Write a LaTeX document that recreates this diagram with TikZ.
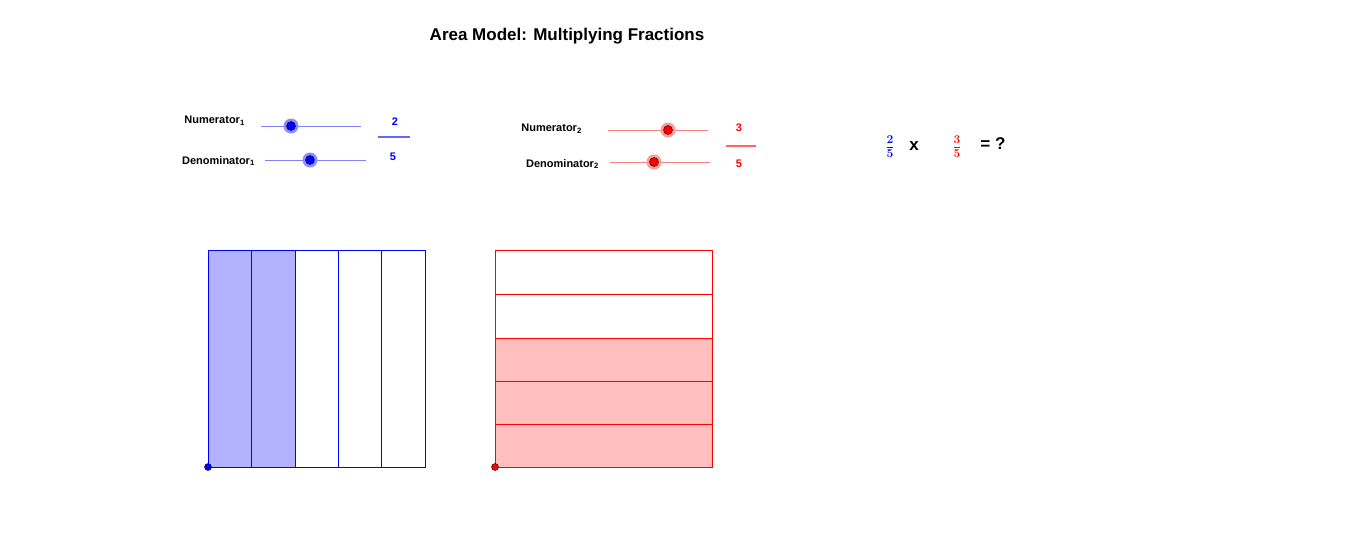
\documentclass[tikz,border=0pt]{standalone}
\usepackage{fontspec}
\setmainfont{Liberation Sans}
\usepackage{amsmath}
\usetikzlibrary{positioning}
\tikzset{
  lbl/.style={font=\bfseries\fontsize{11}{13}\selectfont, inner sep=0pt},
  knob/.style={circle, inner sep=0pt, minimum size=9pt, draw=black, line width=0.4pt},
  halo/.style={circle, inner sep=0pt, minimum size=15pt},
}
\begin{document}
\begin{tikzpicture}[x=1pt,y=-1pt]
		\useasboundingbox (0,0) rectangle (1366,558);
		% Titel
		\node[font=\bfseries\fontsize{17}{20}\selectfont] (title) at (567,36) {Area Model: Multiplying Fractions};

		% Schieberegler 1
		\node[lbl, anchor=east] (num1) at (245,121) {Numerator\textsubscript{1}};
		\node[lbl, anchor=east] (den1) at (255,161) {Denominator\textsubscript{1}};
		\draw[blue!50] (261,126) -- (361,126);
		\draw[blue!50] (265,160) -- (366,160);
		\node[halo, fill=blue!45] at (291,126) {};
		\node[knob, fill=blue] (k1) at (291,126) {};
		\node[halo, fill=blue!45] at (310,160) {};
		\node[knob, fill=blue] (k2) at (310,160) {};
		\node[lbl, text=blue] (v1) at (395,122) {2};
		\draw[blue!60, line width=1.2pt] (378,137) -- (410,137);
		\node[lbl, text=blue] (v2) at (393,157) {5};

		% Schieberegler 2
		\node[lbl, anchor=east] (num2) at (582,129) {Numerator\textsubscript{2}};
		\node[lbl, anchor=east] (den2) at (599,164) {Denominator\textsubscript{2}};
		\draw[red!50] (608,130) -- (708,130);
		\draw[red!50] (610,162) -- (710,162);
		\node[halo, fill=red!40] at (668,130) {};
		\node[knob, fill=red] (k3) at (668,130) {};
		\node[halo, fill=red!40] at (654,162) {};
		\node[knob, fill=red] (k4) at (654,162) {};
		\node[lbl, text=red] (v3) at (739,128) {3};
		\draw[red!60, line width=1.2pt] (726,146) -- (756,146);
		\node[lbl, text=red] (v4) at (739,164) {5};

		% Gleichung
		\node[text=blue, font=\fontsize{17}{20}\selectfont] (f1) at (890,147) {$\boldsymbol{\frac{2}{5}}$};
		\node[font=\bfseries\fontsize{17}{20}\selectfont] (times) at (914,146) {x};
		\node[text=red, font=\fontsize{17}{20}\selectfont] (f2) at (957,147) {$\boldsymbol{\frac{3}{5}}$};
		\node[font=\bfseries\fontsize{17}{20}\selectfont] (eq) at (993,144) {= ?};

		% Blaues Quadrat
		\fill[blue!30] (208,250) rectangle (295,467);
		\foreach \x in {251,295,338,381}
			\draw[blue] (\x,250) -- (\x,467);
		\draw[blue, line width=0.8pt] (208,250) rectangle (425,467);

		% Rotes Quadrat
		\fill[red!25] (495,338) rectangle (712,467);
		\foreach \y in {294,338,381,424}
			\draw[red] (495,\y) -- (712,\y);
		\draw[red, line width=0.8pt] (495,250) rectangle (712,467);

		% Punkte
		\node[circle, inner sep=0pt, minimum size=7pt, draw=black, fill=blue] (p1) at (208,467) {};
		\node[circle, inner sep=0pt, minimum size=7pt, draw=black, fill=red] (p2) at (495,467) {};
\end{tikzpicture}
\end{document}
